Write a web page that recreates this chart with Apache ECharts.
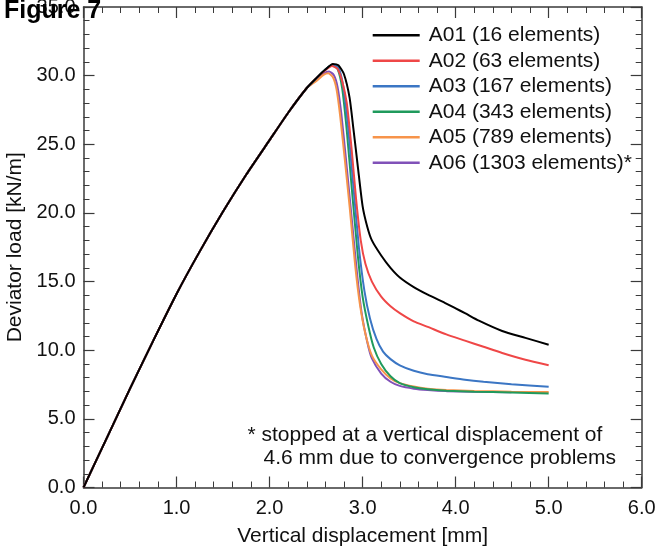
<!DOCTYPE html>
<html>
<head>
<meta charset="utf-8">
<script src="https://cdn.jsdelivr.net/npm/echarts@6/dist/echarts.min.js"></script>
<style>
  html, body { margin: 0; padding: 0; background: #fff; }
  #chart { width: 658px; height: 550px; }
</style>
</head>
<body>
<div id="chart"></div>
<script>
// shared loading branch (all meshes coincide up to ~2.4 mm)
var rise = [[0, 0], [0.25, 3.6], [0.5, 7.2], [0.75, 10.7], [1.0, 14.1], [1.25, 17.2],
  [1.5, 20.1], [1.75, 22.8], [2.0, 25.3], [2.2, 27.3], [2.4, 29.1]];

var tailA01 = [[2.5, 29.8], [2.6, 30.45], [2.68, 30.85], [2.74, 30.75], [2.8, 30.1], [2.86, 28.4],
  [2.9, 26.2], [2.95, 23.3], [3.0, 20.5], [3.05, 19.0], [3.1, 18.0], [3.2, 16.9], [3.3, 16.0],
  [3.4, 15.3], [3.55, 14.6], [3.7, 14.05], [3.9, 13.4], [4.0, 13.05], [4.1, 12.7], [4.25, 12.15],
  [4.5, 11.4], [4.75, 10.9], [5.0, 10.4]];
var tailA02 = [[2.5, 29.8], [2.6, 30.4], [2.67, 30.7], [2.73, 30.5], [2.78, 29.6], [2.83, 28.0],
  [2.88, 24.8], [2.93, 21.0], [2.98, 18.0], [3.03, 16.3], [3.1, 15.0], [3.2, 13.9], [3.3, 13.2],
  [3.4, 12.7], [3.55, 12.1], [3.7, 11.7], [3.9, 11.15], [4.1, 10.7], [4.3, 10.25], [4.5, 9.8],
  [4.75, 9.3], [5.0, 8.9]];
var tailA03 = [[2.5, 29.8], [2.6, 30.45], [2.68, 30.8], [2.74, 30.6], [2.79, 29.3], [2.84, 26.5],
  [2.9, 22.0], [2.96, 17.5], [3.02, 14.3], [3.08, 12.3], [3.15, 10.8], [3.22, 9.9], [3.3, 9.35],
  [3.4, 8.9], [3.55, 8.5], [3.7, 8.25], [3.9, 8.05], [4.1, 7.85], [4.3, 7.7], [4.6, 7.52], [5.0, 7.33]];
var tailA04 = [[2.5, 29.8], [2.6, 30.45], [2.67, 30.75], [2.73, 30.5], [2.78, 29.1], [2.83, 26.0],
  [2.89, 21.3], [2.95, 16.8], [3.0, 13.9], [3.06, 11.8], [3.12, 10.2], [3.2, 9.0], [3.3, 8.1],
  [3.4, 7.6], [3.55, 7.3], [3.7, 7.15], [3.9, 7.05], [4.2, 6.98], [4.6, 6.92], [5.0, 6.85]];
var tailA05 = [[2.5, 29.6], [2.58, 30.05], [2.63, 30.17], [2.68, 29.9], [2.72, 29.0], [2.76, 27.0],
  [2.81, 23.8], [2.86, 20.5], [2.92, 16.2], [2.97, 13.4], [3.03, 11.2], [3.1, 9.6], [3.2, 8.6],
  [3.3, 7.95], [3.4, 7.6], [3.55, 7.35], [3.7, 7.2], [3.9, 7.1], [4.2, 7.03], [4.6, 6.98], [5.0, 6.95]];
// A06 stopped at 4.6 mm
var tailA06 = [[2.5, 29.68], [2.58, 30.15], [2.64, 30.3], [2.69, 30.05], [2.73, 29.2], [2.77, 27.3],
  [2.82, 24.0], [2.88, 19.8], [2.94, 15.6], [2.99, 12.7], [3.05, 10.6], [3.1, 9.4], [3.2, 8.3],
  [3.3, 7.7], [3.4, 7.4], [3.55, 7.2], [3.7, 7.1], [3.9, 7.02], [4.2, 6.97], [4.6, 6.93]];

var names = ['A01 (16 elements)', 'A02 (63 elements)', 'A03 (167 elements)',
  'A04 (343 elements)', 'A05 (789 elements)', 'A06 (1303 elements)*'];
var colors = ['#000000', '#ef4747', '#3b76c4', '#1f9a5c', '#f7944a', '#8051b8'];
var tails = [tailA01, tailA02, tailA03, tailA04, tailA05, tailA06];

var xRange = [0, 6], xStep = 1;
var yRange = [0, 35], yStep = 5;

var FONT = "'Liberation Sans', Arial, sans-serif";
var AXIS_COLOR = '#3a3a3a';

var chart = echarts.init(document.getElementById('chart'));

function makeX(pos, showLabel) {
  return {
    type: 'value', position: pos, min: xRange[0], max: xRange[1], interval: xStep,
    name: showLabel ? 'Vertical displacement [mm]' : '',
    nameLocation: 'middle', nameGap: 38,
    nameTextStyle: { fontFamily: FONT, fontSize: 21, color: '#111' },
    axisLine: { show: true, onZero: false, lineStyle: { color: AXIS_COLOR, width: 1.5 } },
    axisTick: { show: true, inside: true, length: 11, lineStyle: { color: AXIS_COLOR, width: 1.2 } },
    minorTick: { show: true, splitNumber: 5, length: 6, lineStyle: { color: AXIS_COLOR, width: 1 } },
    axisLabel: { show: showLabel, margin: 11, fontFamily: FONT, fontSize: 20, color: '#111',
      formatter: function (v) { return v.toFixed(1); } },
    splitLine: { show: false }
  };
}

function makeY(pos, showLabel) {
  return {
    type: 'value', position: pos, min: yRange[0], max: yRange[1], interval: yStep,
    name: showLabel ? 'Deviator load [kN/m]' : '',
    nameLocation: 'middle', nameGap: 50,
    nameTextStyle: { fontFamily: FONT, fontSize: 21, color: '#111' },
    axisLine: { show: true, onZero: false, lineStyle: { color: AXIS_COLOR, width: 1.5 } },
    axisTick: { show: true, inside: true, length: 11, lineStyle: { color: AXIS_COLOR, width: 1.2 } },
    minorTick: { show: true, splitNumber: 5, length: 6, lineStyle: { color: AXIS_COLOR, width: 1 } },
    axisLabel: { show: showLabel, margin: 8, fontFamily: FONT, fontSize: 20, color: '#111',
      formatter: function (v) { return v.toFixed(1); } },
    splitLine: { show: false }
  };
}

var series = [];
for (var i = 0; i < names.length; i++) {
  series.push({
    name: names[i],
    type: 'line',
    xAxisIndex: 0, yAxisIndex: 0,
    data: rise.concat(tails[i]),
    symbol: 'none',
    smooth: 0.2,
    color: colors[i],
    z: 10 - i,
    lineStyle: { color: colors[i], width: 2 }
  });
}

var option = {
  animation: false,
  backgroundColor: '#ffffff',
  grid: { left: 83.5, right: 16.3, top: 7, bottom: 62.5, containLabel: false, outerBoundsMode: 'none' },
  legend: {
    orient: 'vertical',
    left: 372.7, top: 22.5,
    padding: 0,
    icon: 'rect',
    itemWidth: 47, itemHeight: 2.5, itemGap: 0,
    data: names,
    textStyle: { fontFamily: FONT, fontSize: 21, color: '#111', lineHeight: 25.5, padding: [0, 0, 0, 4] }
  },
  xAxis: [makeX('bottom', true), makeX('top', false)],
  yAxis: [makeY('left', true), makeY('right', false)],
  graphic: [
    { type: 'text', left: 247.5, top: 425, z: 100,
      style: { text: '* stopped at a vertical displacement of', font: '21px ' + FONT, fill: '#111' } },
    { type: 'text', left: 263.5, top: 448, z: 100,
      style: { text: '4.6 mm due to convergence problems', font: '21px ' + FONT, fill: '#111' } },
    { type: 'text', left: 4, top: -1, z: 100,
      style: { text: 'Figure 7', font: 'bold 25px ' + FONT, fill: '#000' } }
  ],
  series: series
};

chart.setOption(option);
window.onresize = chart.resize;
</script>
</body>
</html>
